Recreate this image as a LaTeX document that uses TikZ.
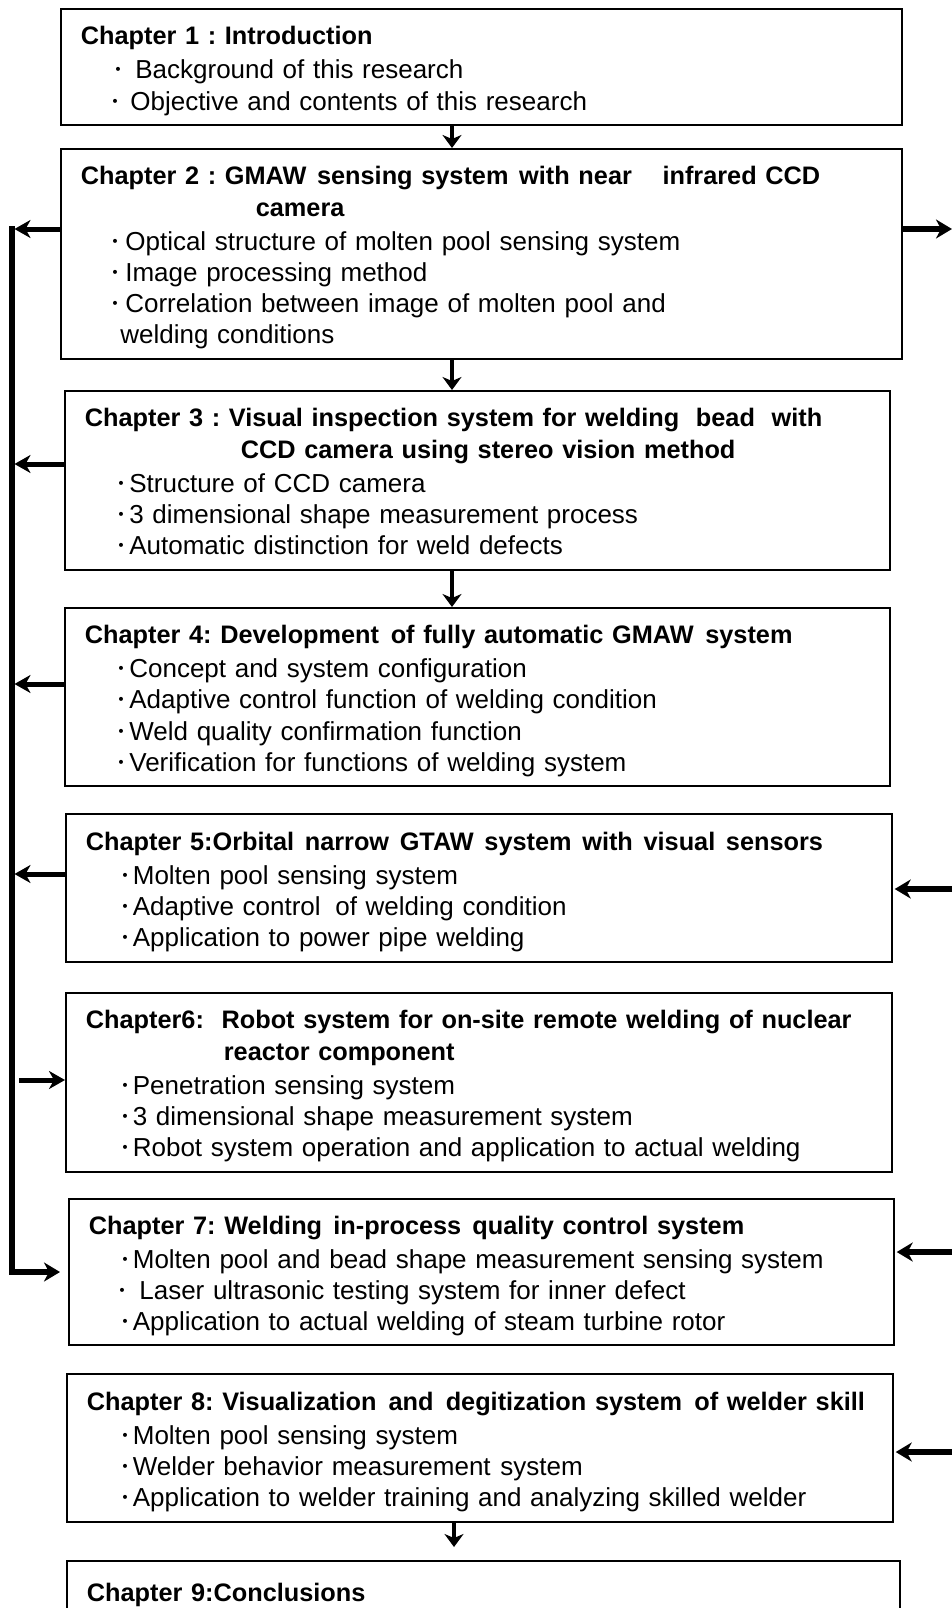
\documentclass[tikz,border=0pt]{standalone}
\usepackage{fontspec}
\setmainfont{Liberation Sans}
\newfontfamily\cjkfont{Noto Sans CJK JP}
\usetikzlibrary{arrows.meta}
\frenchspacing
\newcommand\chDot{{\cjkfont\fontsize{24}{24}\selectfont ･}\hspace{1.5pt}}
\newcommand\chTop{\rule{0pt}{27pt}}
\newcommand\chBot{\rule[-6pt]{0pt}{6pt}}
\newcommand\chT[1]{\mbox{\fontsize{25.3}{31}\selectfont\bfseries #1}}
\newcommand\chL[2]{\hspace*{#1}\mbox{#2}}
\tikzset{
  chbox/.style={draw, line width=1.7pt, anchor=north west, align=left,
    inner xsep=20pt, inner ysep=0pt, font=\fontsize{26}{31.2}\selectfont},
  varr/.style={line width=4.6pt, -{Stealth[length=13pt,width=19pt,inset=4pt]}},
  larr/.style={line width=5pt, -{Stealth[length=16pt,width=18pt,inset=5pt]}},
  rarr/.style={line width=6pt, -{Stealth[length=16pt,width=19pt,inset=5pt]}},
  busline/.style={line width=5.5pt, line join=miter},
}
\begin{document}
\begin{tikzpicture}[x=1pt,y=-1pt]
\useasboundingbox (0,0) rectangle (952,1608);
\clip (0,0) rectangle (952,1608);
\fill[white] (0,0) rectangle (952,1608);

% boxes
\node[chbox, minimum width=841pt, minimum height=116pt, text width=801pt] (b1) at (60,8) {%
\chTop\chT{Chapter 1 : Introduction}\\[3pt]
\chL{32pt}{\chDot\hspace{9pt}Background of this research}\\
\chL{29pt}{\chDot\hspace{7pt}Objective and contents of this research}\chBot};

\node[chbox, minimum width=841pt, minimum height=210pt, text width=801pt] (b2) at (60,148) {%
\chTop\chT{Chapter 2 : GMAW\hspace{2pt} sensing system\hspace{2pt} with near\hspace{22pt} infrared CCD}\\
\chL{175pt}{\chT{camera}}\\[3pt]
\chL{29pt}{\chDot\hspace{2pt}Optical structure of molten pool sensing system}\\
\chL{29pt}{\chDot\hspace{2pt}Image processing method}\\
\chL{29pt}{\chDot\hspace{2pt}Correlation between image of molten pool and}\\
\chL{39.6pt}{welding conditions}\chBot};

\node[chbox, minimum width=825pt, minimum height=179pt, text width=785pt] (b3) at (64,390) {%
\chTop\chT{Chapter 3 : Visual inspection system for welding\hspace{8pt} bead\hspace{8pt} with}\\
\chL{156pt}{\chT{CCD camera using stereo vision method}}\\[3pt]
\chL{31pt}{\chDot Structure of CCD camera}\\
\chL{31pt}{\chDot 3 dimensional shape measurement process}\\
\chL{31pt}{\chDot Automatic distinction for weld defects}\chBot};

\node[chbox, minimum width=825pt, minimum height=178pt, text width=785pt] (b4) at (64,607) {%
\chTop\chT{Chapter 4: Development\hspace{3pt} of fully automatic GMAW\hspace{3pt} system}\\[3pt]
\chL{31pt}{\chDot Concept and system configuration}\\
\chL{31pt}{\chDot Adaptive control function of welding condition}\\
\chL{31pt}{\chDot Weld quality confirmation function}\\
\chL{31pt}{\chDot Verification for functions of welding system}\chBot};

\node[chbox, minimum width=826pt, minimum height=148pt, text width=786pt] (b5) at (65,813) {%
\chTop\chT{Chapter 5:Orbital\hspace{2pt} narrow\hspace{2pt} GTAW\hspace{2pt} system\hspace{2pt} with\hspace{2pt} visual\hspace{2pt} sensors}\\[3pt]
\chL{33.5pt}{\chDot Molten pool sensing system}\\
\chL{33.5pt}{\chDot Adaptive control\hspace{6pt} of welding condition}\\
\chL{33.5pt}{\chDot Application to power pipe welding}\chBot};

\node[chbox, minimum width=826pt, minimum height=179pt, text width=786pt] (b6) at (65,992) {%
\chTop\chT{Chapter6:\hspace{9pt} Robot system for on-site remote welding of nuclear}\\
\chL{138pt}{\chT{reactor component}}\\[3pt]
\chL{33.5pt}{\chDot Penetration sensing system}\\
\chL{33.5pt}{\chDot 3 dimensional shape measurement system}\\
\chL{33.5pt}{\chDot Robot system operation and application to actual welding}\chBot};

\node[chbox, minimum width=825pt, minimum height=146pt, text width=785pt] (b7) at (68,1198) {%
\chTop\chT{Chapter 7: Welding\hspace{2.5pt} in-process\hspace{2.5pt} quality control system}\\[3pt]
\chL{30.5pt}{\chDot Molten pool and bead shape measurement sensing system}\\
\chL{28pt}{\chDot\hspace{9pt}Laser ultrasonic testing system for inner defect}\\
\chL{30.5pt}{\chDot Application to actual welding of steam turbine rotor}\chBot};

\node[chbox, minimum width=826pt, minimum height=148pt, text width=786pt] (b8) at (66,1373) {%
\chTop\chT{Chapter 8: Visualization\hspace{3.5pt} and\hspace{3.5pt} degitization system\hspace{3.5pt} of welder skill}\\[3pt]
\chL{32.5pt}{\chDot Molten pool sensing system}\\
\chL{32.5pt}{\chDot Welder behavior measurement\hspace{1pt} system}\\
\chL{32.5pt}{\chDot Application to welder training and analyzing skilled welder}\chBot};

\node[chbox, minimum width=833pt, minimum height=60pt, text width=793pt] (b9) at (66,1560) {%
\chTop\chT{Chapter 9:Conclusions}\chBot};

% helper coordinates
\coordinate (ax) at (452,0);
\coordinate (ax2) at (454,0);
\coordinate (bustop) at (12,229);
\coordinate (busend) at (12,1272);
\coordinate (c7) at (60,1272);
\coordinate (c6) at (19,1080);
\coordinate (r2) at (952,229);
\coordinate (r5) at (952,889);
\coordinate (r7) at (952,1252);
\coordinate (r8) at (952,1452);

% vertical arrows
\draw[varr] (b1.south -| ax) -- (b2.north -| ax);
\draw[varr] (b2.south -| ax) -- (b3.north -| ax);
\draw[varr] (b3.south -| ax) -- (b4.north -| ax);
\draw[varr] (b8.south -| ax2) -- ([yshift=13pt]b9.north -| ax2);

% left bus
\draw[busline, -{Stealth[length=16pt,width=19pt,inset=5pt]}] ([yshift=2.75pt]bustop) -- (busend) -- (c7);
\draw[larr] (b2.west |- bustop) -- ([xshift=2.5pt]bustop);
\draw[larr] (b3.west |- 0,464) -- ([xshift=2.5pt]bustop |- 0,464);
\draw[larr] (b4.west |- 0,684) -- ([xshift=2.5pt]bustop |- 0,684);
\draw[larr] (b5.west |- 0,874) -- ([xshift=2.5pt]bustop |- 0,874);
\draw[larr] (c6) -- (b6.west |- c6);

% right side arrows
\draw[rarr] (b2.east |- r2) -- (r2);
\draw[rarr, shorten >=2pt] (r5) -- (b5.east |- r5);
\draw[rarr, shorten >=2pt] (r7) -- (b7.east |- r7);
\draw[rarr, shorten >=2pt] (r8) -- (b8.east |- r8);
\end{tikzpicture}
\end{document}
